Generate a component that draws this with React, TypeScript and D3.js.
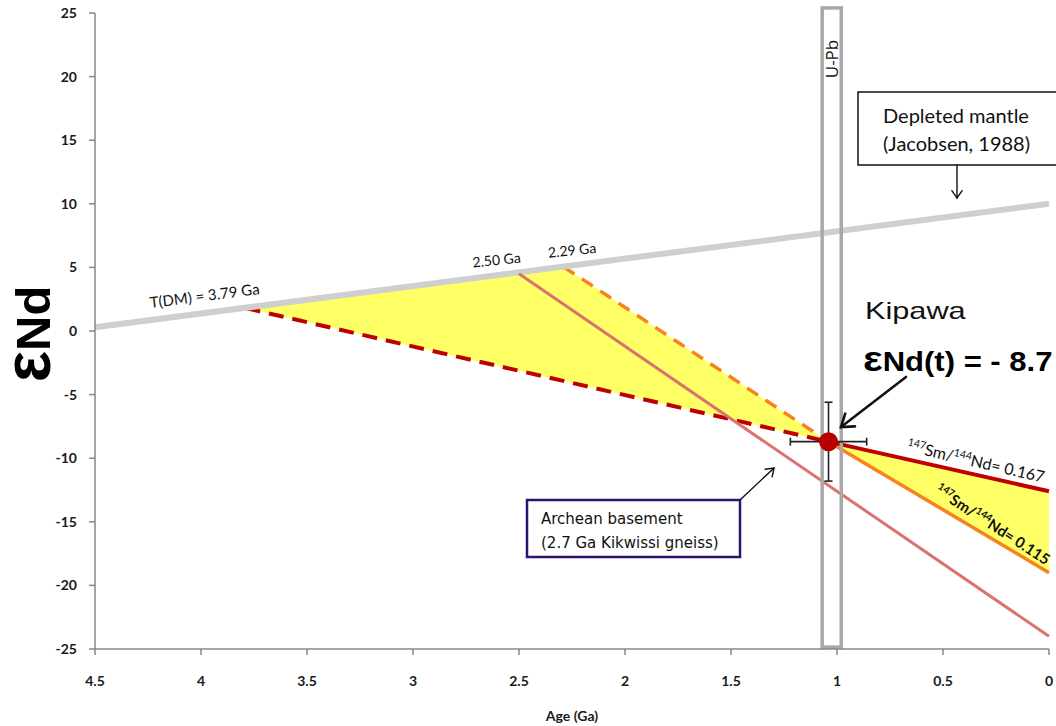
import React from "react";
import * as d3 from "d3";

type Pt = { age: number; eNd: number };

const W = 1056;
const H = 726;

// Axis ticks
const ageTicks = [4.5, 4, 3.5, 3, 2.5, 2, 1.5, 1, 0.5, 0];
const eNdTicks = [25, 20, 15, 10, 5, 0, -5, -10, -15, -20, -25];

// Depleted mantle evolution (Jacobsen, 1988)
const depletedMantle: Pt[] = [
  { age: 4.5, eNd: 0.3 },
  { age: 0, eNd: 10 },
];

// Model ages where the Kipawa evolution lines meet the depleted mantle
const modelAges = [
  { label: "T(DM) =  3.79 Ga", age: 3.79, eNd: 1.8 },
  { label: "2.50 Ga", age: 2.5, eNd: 4.6 },
  { label: "2.29 Ga", age: 2.29, eNd: 5.05 },
];

// Kipawa sample with uncertainties
const kipawa = { age: 1.04, eNd: -8.7, ageErr: 0.18, eNdErr: 3.1 };

// U-Pb age window
const uPbAges = [1.07, 0.98];
const uPbEnd = [25.4, -24.85];

// Archean basement (2.7 Ga Kikwissi gneiss) evolution
const archean: Pt[] = [
  { age: 2.5, eNd: 4.5 },
  { age: 0, eNd: -24 },
];

// Sm/Nd evolution lines: back-projection (dashed) and forward (solid)
const sm167Past: Pt[] = [
  { age: 3.79, eNd: 1.8 },
  { age: 1.04, eNd: -8.7 },
];
const sm167Future: Pt[] = [
  { age: 1.04, eNd: -8.7 },
  { age: 0, eNd: -12.6 },
];
const sm115Past: Pt[] = [
  { age: 2.29, eNd: 5.05 },
  { age: 1.04, eNd: -8.7 },
];
const sm115Future: Pt[] = [
  { age: 1.04, eNd: -8.7 },
  { age: 0, eNd: -19 },
];

const x = d3.scaleLinear().domain([4.5, 0]).range([95, 1049]);
const y = d3.scaleLinear().domain([-25, 25]).range([649, 13]);

const line = d3
  .line<Pt>()
  .x((d) => x(d.age))
  .y((d) => y(d.eNd));

const area = (pts: Pt[]) => line(pts)! + "Z";

const AXIS = "#878787";
const DARK_RED = "#c00000";
const ORANGE = "#f7821e";
const YELLOW = "#ffff66";
const PINK = "#d9736f";
const DM_GREY = "#cfcfcf";

// label offsets (px) from each model-age point on the depleted mantle line
const modelLabelOffsets = [
  { dx: -95, dy: 0, size: 15 },
  { dx: -46, dy: -5, size: 14 },
  { dx: -15, dy: -9, size: 14 },
];

function Arrow({
  x1,
  y1,
  x2,
  y2,
  w,
  head,
}: {
  x1: number;
  y1: number;
  x2: number;
  y2: number;
  w: number;
  head: number;
}) {
  const a = Math.atan2(y2 - y1, x2 - x1);
  const s = (35 * Math.PI) / 180;
  const hx1 = x2 - head * Math.cos(a - s);
  const hy1 = y2 - head * Math.sin(a - s);
  const hx2 = x2 - head * Math.cos(a + s);
  const hy2 = y2 - head * Math.sin(a + s);
  return (
    <g stroke="#111" strokeWidth={w} fill="none" strokeLinecap="round">
      <line x1={x1} y1={y1} x2={x2} y2={y2} />
      <path d={`M${hx1},${hy1}L${x2},${y2}L${hx2},${hy2}`} strokeLinejoin="miter" />
    </g>
  );
}

export default function App() {
  const dmAngle =
    (Math.atan2(
      y(depletedMantle[1].eNd) - y(depletedMantle[0].eNd),
      x(depletedMantle[1].age) - x(depletedMantle[0].age)
    ) *
      180) /
    Math.PI;

  const kx = x(kipawa.age);
  const ky = y(kipawa.eNd);

  return (
    <svg
      width={W}
      height={H}
      style={{ position: "absolute", left: 0, top: 0, background: "#fff" }}
      fontFamily="Lato, 'Open Sans', sans-serif"
    >
      {/* yellow envelopes */}
      <path d={area([sm167Past[0], sm115Past[0], sm115Past[1]])} fill={YELLOW} />
      <path d={area([sm167Future[0], sm167Future[1], sm115Future[1]])} fill={YELLOW} />

      {/* dashed back-projections */}
      <path d={line(sm167Past)!} stroke={DARK_RED} strokeWidth={4} strokeDasharray="15 9" fill="none" />
      <path d={line(sm115Past)!} stroke={ORANGE} strokeWidth={3.5} strokeDasharray="13 9" fill="none" />

      {/* depleted mantle */}
      <path d={line(depletedMantle)!} stroke={DM_GREY} strokeWidth={6} fill="none" />

      {/* Archean basement */}
      <path d={line(archean)!} stroke={PINK} strokeWidth={3} fill="none" />

      {/* forward evolution */}
      <path d={line(sm115Future)!} stroke={ORANGE} strokeWidth={3.5} fill="none" />
      <path d={line(sm167Future)!} stroke={DARK_RED} strokeWidth={4} fill="none" />

      {/* U-Pb window */}
      <rect
        x={x(uPbAges[0])}
        y={y(uPbEnd[0])}
        width={x(uPbAges[1]) - x(uPbAges[0])}
        height={y(uPbEnd[1]) - y(uPbEnd[0])}
        fill="none"
        stroke="#a8a8a8"
        strokeWidth={3.5}
      />
      <text
        transform={`translate(${(x(uPbAges[0]) + x(uPbAges[1])) / 2 + 6},59) rotate(-90)`}
        textAnchor="middle"
        fontSize={17}
        fontFamily="'Open Sans', sans-serif"
        fill="#111"
      >
        U-Pb
      </text>

      {/* axes */}
      <g stroke={AXIS} strokeWidth={1.5}>
        <line x1={95} x2={95} y1={y(25)} y2={y(-25)} />
        <line x1={95} x2={1049} y1={y(-25)} y2={y(-25)} />
        {eNdTicks.map((t) => (
          <line key={t} x1={89} x2={95} y1={y(t)} y2={y(t)} />
        ))}
        {ageTicks.map((t) => (
          <line key={t} x1={x(t)} x2={x(t)} y1={649} y2={655} />
        ))}
      </g>
      <g fontSize={14} fontWeight="bold" fill="#1a1a1a">
        {eNdTicks.map((t) => (
          <text key={t} x={77} y={y(t)} dy="0.36em" textAnchor="end">
            {t}
          </text>
        ))}
        {ageTicks.map((t) => (
          <text key={t} x={x(t)} y={686} textAnchor="middle">
            {t}
          </text>
        ))}
        <text x={572} y={721} textAnchor="middle">
          Age (Ga)
        </text>
      </g>
      <text
        transform="translate(50,334) rotate(-90)"
        textAnchor="middle"
        fontSize={49}
        fontWeight="bold"
        fontFamily="'Liberation Sans', Arial, sans-serif"
        fill="#000"
      >
        <tspan fontSize={66}>ε</tspan>Nd
      </text>

      {/* model age labels */}
      {modelAges.map((m, i) => (
        <text
          key={m.label}
          transform={`translate(${x(m.age) + modelLabelOffsets[i].dx},${
            y(m.eNd) + modelLabelOffsets[i].dy
          }) rotate(${dmAngle + (i === 0 ? 0 : 1.5)})`}
          fontSize={modelLabelOffsets[i].size}
          fill="#111"
        >
          {m.label}
        </text>
      ))}

      {/* Sm/Nd labels */}
      <text transform="translate(906,451) rotate(13)" fontSize={16} fill="#111">
        <tspan fontSize={10.5} dy={-6}>147</tspan>
        <tspan dy={6}>Sm/</tspan>
        <tspan fontSize={10.5} dy={-6}>144</tspan>
        <tspan dy={6}>Nd= 0.167</tspan>
      </text>
      <text transform="translate(934,493) rotate(33)" fontSize={15} fontWeight="bold" fill="#111">
        <tspan fontSize={10} dy={-6}>147</tspan>
        <tspan dy={6}>Sm/</tspan>
        <tspan fontSize={10} dy={-6}>144</tspan>
        <tspan dy={6}>Nd= 0.115</tspan>
      </text>

      {/* error bars */}
      <g stroke="#222" strokeWidth={1.6}>
        <line x1={kx} x2={kx} y1={y(kipawa.eNd + kipawa.eNdErr)} y2={y(kipawa.eNd - kipawa.eNdErr)} />
        <line x1={kx - 4} x2={kx + 4} y1={y(kipawa.eNd + kipawa.eNdErr)} y2={y(kipawa.eNd + kipawa.eNdErr)} />
        <line x1={kx - 4} x2={kx + 4} y1={y(kipawa.eNd - kipawa.eNdErr)} y2={y(kipawa.eNd - kipawa.eNdErr)} />
        <line x1={x(kipawa.age + kipawa.ageErr)} x2={x(kipawa.age - kipawa.ageErr)} y1={ky} y2={ky} />
        <line x1={x(kipawa.age + kipawa.ageErr)} x2={x(kipawa.age + kipawa.ageErr)} y1={ky - 4} y2={ky + 4} />
        <line x1={x(kipawa.age - kipawa.ageErr)} x2={x(kipawa.age - kipawa.ageErr)} y1={ky - 4} y2={ky + 4} />
      </g>
      <circle cx={kx} cy={ky} r={9.5} fill="#b80000" />

      {/* Kipawa annotation */}
      <text
        transform="translate(865,319) scale(1.28,1)"
        fontSize={24}
        fontFamily="'Liberation Sans', Arial, sans-serif"
        fill="#111"
      >
        Kipawa
      </text>
      <text
        transform="translate(863,371) scale(1.15,1)"
        fontSize={27}
        fontWeight="bold"
        fontFamily="'Liberation Sans', Arial, sans-serif"
        fill="#000"
      >
        <tspan fontSize={36}>ε</tspan>Nd(t) = - {Math.abs(kipawa.eNd)}
      </text>
      <Arrow x1={906} y1={377} x2={841} y2={427} w={2.6} head={14} />

      {/* Depleted mantle callout */}
      <rect x={858} y={92} width={200} height={73} fill="#fff" stroke="#111" strokeWidth={1.5} />
      <text x={883} y={123} fontSize={20} fill="#111">
        Depleted mantle
      </text>
      <text x={883} y={151} fontSize={20} fill="#111">
        (Jacobsen, 1988)
      </text>
      <Arrow x1={957} y1={165} x2={957} y2={198} w={1.4} head={9} />

      {/* Archean basement callout */}
      <rect x={527} y={500} width={213} height={57} fill="#fff" stroke="#2f1273" strokeWidth={2.5} />
      <text x={541} y={524} fontSize={15} fontFamily="'DejaVu Sans', Verdana, sans-serif" fill="#111">
        Archean basement
      </text>
      <text x={541} y={548} fontSize={15} fontFamily="'DejaVu Sans', Verdana, sans-serif" fill="#111">
        (2.7 Ga Kikwissi gneiss)
      </text>
      <Arrow x1={740} y1={500} x2={774} y2={468} w={1.4} head={9} />
    </svg>
  );
}
